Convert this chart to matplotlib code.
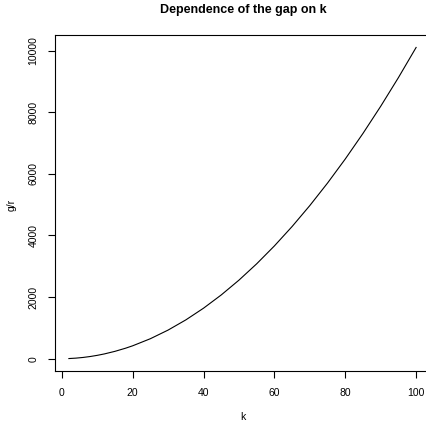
import matplotlib
matplotlib.use('Agg')
import matplotlib.pyplot as plt

# values
k_vals = [2, 4, 6, 8, 10, 12, 15, 18, 20, 25, 30, 35, 40, 45, 50,
          55, 60, 65, 70, 75, 80, 85, 90, 95, 100]
gap_vals = [6, 20, 42, 72, 110, 156, 240, 342, 420, 650, 930, 1260, 1640, 2070, 2550,
            3080, 3660, 4290, 4970, 5700, 6480, 7310, 8190, 9120, 10100]
x_ticks = [0, 20, 40, 60, 80, 100]
y_ticks = [0, 2000, 4000, 6000, 8000, 10000]

plt.rcParams['font.family'] = ['Liberation Sans', 'DejaVu Sans']

fig = plt.figure(figsize=(4.26, 4.26), dpi=100)
ax = fig.add_axes([55 / 426, 55 / 426, 375 / 426, 336 / 426])

ax.plot(k_vals, gap_vals, color='black', linewidth=0.8)

# R-like 4% padding
xr = max(k_vals) - min(k_vals)
yr = max(gap_vals) - min(gap_vals)
ax.set_xlim(min(k_vals) - 0.04 * xr, max(k_vals) + 0.04 * xr)
ax.set_ylim(min(gap_vals) - 0.04 * yr, max(gap_vals) + 0.04 * yr)

ax.set_xticks(x_ticks)
ax.set_yticks(y_ticks)
ax.set_yticklabels([str(v) for v in y_ticks], rotation=90, va='center')
ax.tick_params(direction='out', length=5, width=0.8, labelsize=7.5, pad=7)

for s in ax.spines.values():
    s.set_linewidth(0.8)
# box edge falls just outside the picture in the reference
ax.spines['right'].set_visible(False)

fig.text(243 / 426, 1 - 10 / 426, 'Dependence of the gap on k',
         ha='center', va='center', fontsize=9, fontweight='bold')
fig.text(243 / 426, 1 - 417 / 426, 'k', ha='center', va='center', fontsize=7.5)
fig.text(12 / 426, 1 - 205 / 426, 'g/r', ha='center', va='center',
         rotation=90, fontsize=7.5)

plt.savefig('out.png', dpi=100)
